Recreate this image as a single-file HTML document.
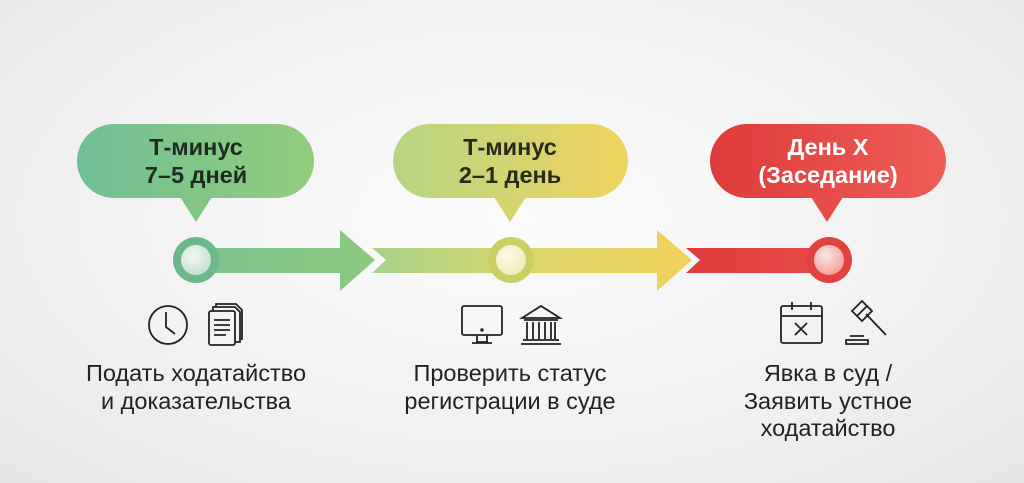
<!DOCTYPE html>
<html><head><meta charset="utf-8"><style>
html,body{margin:0;padding:0;width:1024px;height:483px;overflow:hidden}
body{background:radial-gradient(ellipse at 50% 45%,#fbfbfb 0%,#f2f2f2 55%,#e6e6e6 100%)}
svg{display:block}
text{font-family:"Liberation Sans","DejaVu Sans",sans-serif}
</style></head><body>
<svg width="1024" height="483" viewBox="0 0 1024 483">
<defs>
<linearGradient id="g1" x1="0" x2="1"><stop offset="0" stop-color="#6fbf95"/><stop offset="1" stop-color="#93cc7c"/></linearGradient>
<linearGradient id="g2" x1="0" x2="1"><stop offset="0" stop-color="#b6d483"/><stop offset="1" stop-color="#f0d45e"/></linearGradient>
<linearGradient id="g3" x1="0" x2="1"><stop offset="0" stop-color="#de3a3a"/><stop offset="1" stop-color="#ef5d57"/></linearGradient>
<linearGradient id="a1" x1="0" x2="1"><stop offset="0" stop-color="#7cc38f"/><stop offset="1" stop-color="#8cc97f"/></linearGradient>
<linearGradient id="a2" x1="0" x2="1"><stop offset="0" stop-color="#a5d28b"/><stop offset="0.5" stop-color="#dcd66a"/><stop offset="1" stop-color="#f0d25a"/></linearGradient>
<linearGradient id="a3" x1="0" x2="1"><stop offset="0" stop-color="#e03c3c"/><stop offset="1" stop-color="#e84a48"/></linearGradient>
<radialGradient id="k" cx="0.4" cy="0.35" r="0.7"><stop offset="0" stop-color="#fff" stop-opacity="0.8"/><stop offset="1" stop-color="#fff" stop-opacity="0.15"/></radialGradient>
</defs>
<polygon points="196,248 340,248 340,230 375,260 340,291 340,273 196,273" fill="url(#a1)"/>
<polygon points="372,248 657,248 657,230 692,260 657,291 657,273 372,273 386,260" fill="url(#a2)"/>
<polygon points="686,248 829,248 829,273 686,273 700,260" fill="url(#a3)"/>
<circle cx="196" cy="260" r="23" fill="#6cb88a"/><circle cx="196" cy="260" r="15" fill="#b7dcc2"/><circle cx="196" cy="260" r="15" fill="url(#k)"/>
<circle cx="511" cy="260" r="23" fill="#c9cf63"/><circle cx="511" cy="260" r="15" fill="#ece7a8"/><circle cx="511" cy="260" r="15" fill="url(#k)"/>
<circle cx="829" cy="260" r="23" fill="#e0433f"/><circle cx="829" cy="260" r="15" fill="#f08a86"/><circle cx="829" cy="260" r="15" fill="url(#k)"/>
<rect x="77" y="124" width="237" height="74" rx="37" fill="url(#g1)"/><polygon points="180,197 212,197 196,222" fill="#84c585"/>
<rect x="393" y="124" width="235" height="74" rx="37" fill="url(#g2)"/><polygon points="494,197 526,197 510,222" fill="#d3d470"/>
<rect x="710" y="124" width="236" height="74" rx="37" fill="url(#g3)"/><polygon points="811,197 843,197 827,222" fill="#e84c48"/>
<g font-size="23.5" font-weight="bold" text-anchor="middle">
<text x="196" y="155" fill="#1e2a22">Т-минус</text><text x="196" y="183" fill="#1e2a22">7–5 дней</text>
<text x="510" y="155" fill="#2a2a1a">Т-минус</text><text x="510" y="183" fill="#2a2a1a">2–1 день</text>
<text x="828" y="155" fill="#fff">День X</text><text x="828" y="183" fill="#fff">(Заседание)</text>
</g>
<g fill="none" stroke="#222" stroke-width="1.8">
<circle cx="168" cy="325" r="19"/><polyline points="166,312 166,327 175,334"/>
<rect x="209" y="311" width="26" height="34" rx="2" fill="#f4f4f4"/><path d="M213,311 v-4 h22 l5,5 v30 h-5"/><path d="M216,307 v-3 h20 l6,6 v30"/>
<path d="M214,320h16M214,325h16M214,330h16M214,335h12"/>
<rect x="462" y="306" width="40" height="29" rx="2"/><path d="M477,335 v7 h10 v-7 M472,343h20"/><circle cx="482" cy="330" r="0.8"/>
<path d="M522,318 l19,-12 l19,12 z M524,320h34 M527,322v17 M533,322v17 M539,322v17 M545,322v17 M551,322v17 M555,322v17 M523,340h36 M521,344h40"/>
<rect x="781" y="306" width="41" height="37" rx="2"/><path d="M781,316h41 M792,302v8 M811,302v8 M795,323 l12,12 M807,323 l-12,12"/>
<path d="M852,311 l10,-10 l10,10 l-10,10 z M857,316 l10,-10 M866,314 l20,21 M846,340h22 v4h-22z M850,336h14"/>
</g>
<g font-size="23.5" fill="#222" text-anchor="middle">
<text x="196" y="381">Подать ходатайство</text><text x="196" y="409">и доказательства</text>
<text x="510" y="381">Проверить статус</text><text x="510" y="409">регистрации в суде</text>
<text x="828" y="381">Явка в суд /</text><text x="828" y="409">Заявить устное</text><text x="828" y="436">ходатайство</text>
</g>
</svg>
</body></html>
